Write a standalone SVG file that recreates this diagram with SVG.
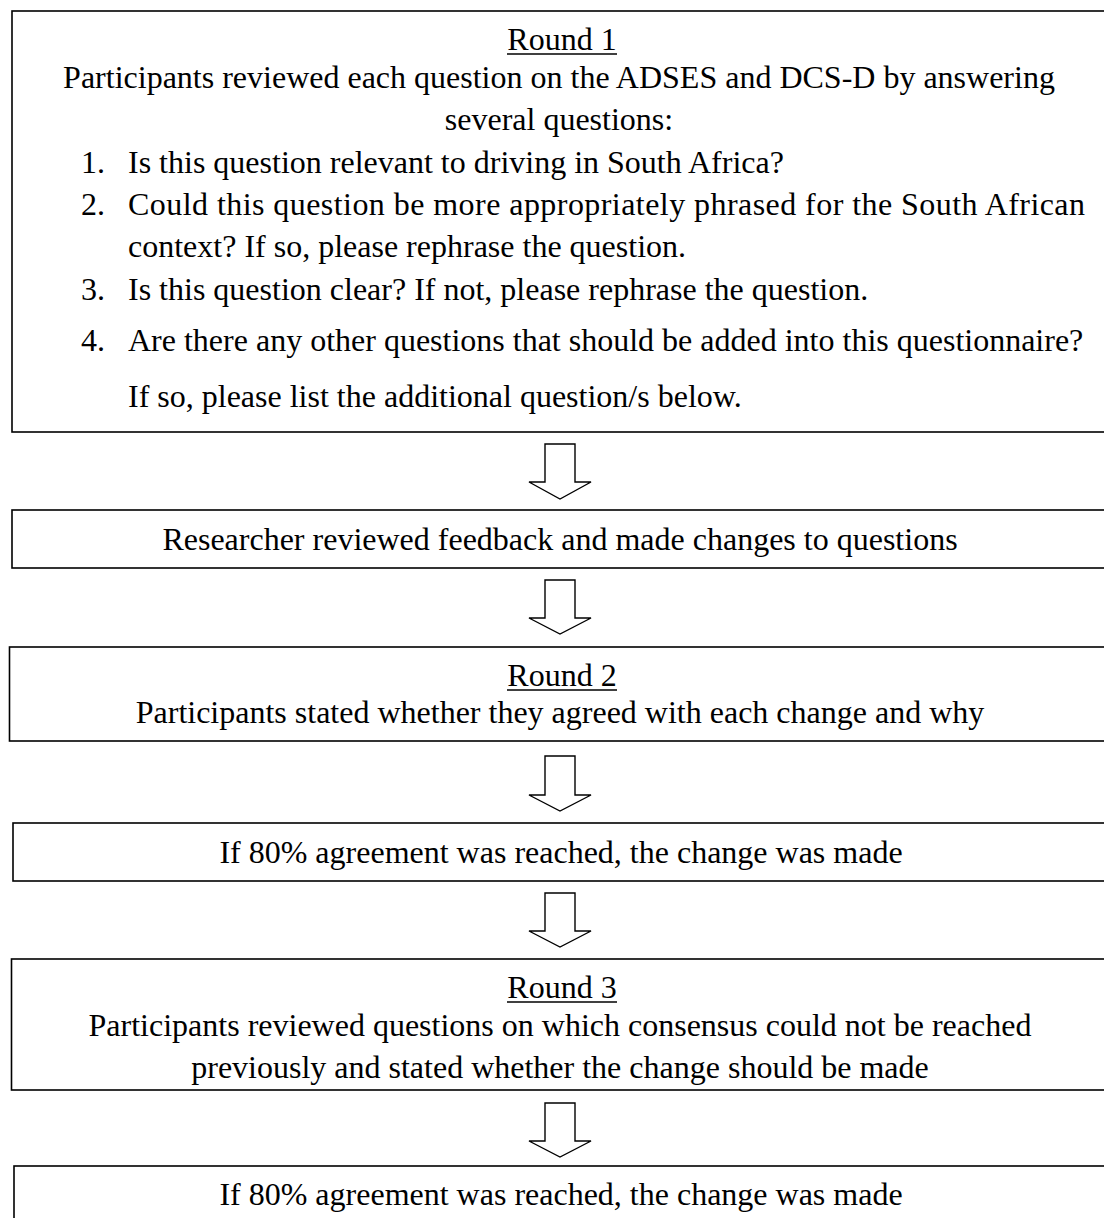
<svg xmlns="http://www.w3.org/2000/svg" width="1104" height="1218" viewBox="0 0 1104 1218">
<style>
.box{fill:#fff;stroke:#000;stroke-width:1.6}
.arr{fill:#fff;stroke:#000;stroke-width:1.4;stroke-linejoin:miter}
text{font-family:"Liberation Serif","Times New Roman",serif;font-size:32px;fill:#000}
.c{text-anchor:middle}
.ul{stroke:#000;stroke-width:1.5}
</style>
<rect width="1104" height="1218" fill="#fff"/>
<g id="round1">
<rect class="box" x="12" y="11" width="1100" height="421"/>
<text class="c" x="562" y="50">Round 1</text>
<line class="ul" x1="507" y1="54" x2="617" y2="54"/>
<text class="c" x="559" y="88">Participants reviewed each question on the ADSES and DCS-D by answering</text>
<text class="c" x="559" y="130">several questions:</text>
<text x="81" y="173">1.</text><text x="128" y="173">Is this question relevant to driving in South Africa?</text>
<text x="81" y="215">2.</text><text x="128" y="215" textLength="957" lengthAdjust="spacing">Could this question be more appropriately phrased for the South African</text>
<text x="128" y="257">context? If so, please rephrase the question.</text>
<text x="81" y="300">3.</text><text x="128" y="300">Is this question clear? If not, please rephrase the question.</text>
<text x="81" y="351">4.</text><text x="128" y="351">Are there any other questions that should be added into this questionnaire?</text>
<text x="128" y="407">If so, please list the additional question/s below.</text>
</g>
<g id="review">
<rect class="box" x="12" y="510" width="1100" height="58"/>
<text class="c" x="560" y="550">Researcher reviewed feedback and made changes to questions</text>
</g>
<g id="round2">
<rect class="box" x="9.5" y="647" width="1102" height="94"/>
<text class="c" x="562" y="686">Round 2</text>
<line class="ul" x1="507" y1="690" x2="617" y2="690"/>
<text class="c" x="560" y="723">Participants stated whether they agreed with each change and why</text>
</g>
<g id="agree1">
<rect class="box" x="13" y="823" width="1100" height="58"/>
<text class="c" x="561" y="863">If 80% agreement was reached, the change was made</text>
</g>
<g id="round3">
<rect class="box" x="11.5" y="959" width="1100" height="131"/>
<text class="c" x="562" y="998">Round 3</text>
<line class="ul" x1="507" y1="1002" x2="617" y2="1002"/>
<text class="c" x="560" y="1036">Participants reviewed questions on which consensus could not be reached</text>
<text class="c" x="560" y="1078">previously and stated whether the change should be made</text>
</g>
<g id="agree2">
<rect class="box" x="14" y="1166" width="1100" height="70"/>
<text class="c" x="561" y="1205">If 80% agreement was reached, the change was made</text>
</g>
<g id="connectors">
<path class="arr" d="M545,444 H575 V482 H591 L560,499 L529,482 H545 Z"/>
<path class="arr" d="M545,580 H575 V618 H591 L560,634 L529,618 H545 Z"/>
<path class="arr" d="M545,756 H575 V795 H591 L560,811 L529,795 H545 Z"/>
<path class="arr" d="M545,893 H575 V931 H591 L560,947 L529,931 H545 Z"/>
<path class="arr" d="M545,1103 H575 V1141 H591 L560,1157 L529,1141 H545 Z"/>
</g>
</svg>
